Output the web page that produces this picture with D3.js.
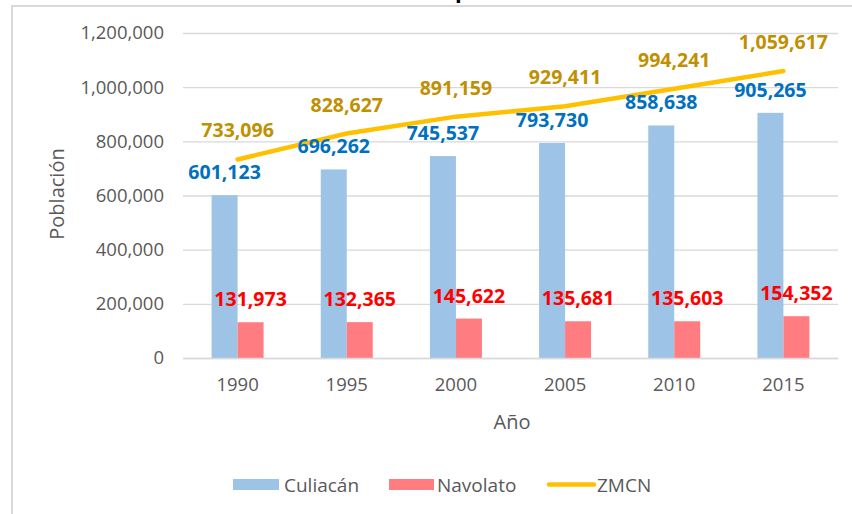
<!DOCTYPE html>
<html>
<head>
<meta charset="utf-8">
<script src="https://cdn.jsdelivr.net/npm/d3@7/dist/d3.min.js"></script>
<style>
  html, body { margin: 0; padding: 0; background: #fff; }
  svg { display: block; font-family: "Open Sans", "DejaVu Sans", sans-serif; }
</style>
</head>
<body>
<svg id="chart" width="852" height="514"></svg>
<script>
const years = ["1990", "1995", "2000", "2005", "2010", "2015"];
const culiacan = [601123, 696262, 745537, 793730, 858638, 905265];
const navolato = [131973, 132365, 145622, 135681, 135603, 154352];
const zmcn = [733096, 828627, 891159, 929411, 994241, 1059617];
const yTicks = [0, 200000, 400000, 600000, 800000, 1000000, 1200000];
const seriesNames = ["Culiacán", "Navolato", "ZMCN"];

const colors = { bar1: "#9DC3E6", bar2: "#FF7C80", line: "#FFC000",
                 lab1: "#0070C0", lab2: "#FF0000", lab3: "#BF9000",
                 grid: "#D9D9D9", text: "#595959" };

const svg = d3.select("#chart");
const fmt = d3.format(",");

// frame
svg.append("line").attr("x1", 12).attr("x2", 12).attr("y1", 5).attr("y2", 514)
  .attr("stroke", "#D9D9D9").attr("stroke-width", 2);
svg.append("line").attr("x1", 11).attr("x2", 852).attr("y1", 6).attr("y2", 6)
  .attr("stroke", "#D9D9D9").attr("stroke-width", 2);

// cut-off title remnant
svg.append("text").attr("x", 455).attr("y", -2.5).attr("font-size", 22)
  .attr("font-weight", "bold").attr("fill", "#000").text("p");

const mLeft = 183, mRight = 838, mTop = 33, mBottom = 358;
const x = d3.scaleBand().domain(years).range([mLeft, mRight]).padding(0);
const xs = d3.scaleBand().domain(["c", "n"])
  .range([x.bandwidth() * 0.262, x.bandwidth() * 0.738]).padding(0);
const y = d3.scaleLinear().domain([0, 1200000]).range([mBottom, mTop]);

// grid
const yAxis = d3.axisLeft(y).tickValues(yTicks).tickFormat(fmt)
  .tickSize(-(mRight - mLeft)).tickPadding(19);
const gy = svg.append("g").attr("transform", `translate(${mLeft},0)`).call(yAxis);
gy.select(".domain").remove();
gy.selectAll(".tick line").attr("stroke", colors.grid).attr("stroke-width", 1.3);
gy.selectAll(".tick text").attr("fill", colors.text).attr("font-size", 18.5)
  .attr("font-family", "Open Sans");

// bars
const g = svg.append("g");
g.selectAll(".bc").data(culiacan).enter().append("rect")
  .attr("x", (d, i) => x(years[i]) + xs("c")).attr("width", xs.bandwidth())
  .attr("y", d => y(d)).attr("height", d => y(0) - y(d)).attr("fill", colors.bar1);
g.selectAll(".bn").data(navolato).enter().append("rect")
  .attr("x", (d, i) => x(years[i]) + xs("n")).attr("width", xs.bandwidth())
  .attr("y", d => y(d)).attr("height", d => y(0) - y(d)).attr("fill", colors.bar2);

// x axis
const xAxis = d3.axisBottom(x).tickSize(0).tickPadding(20);
const gx = svg.append("g").attr("transform", `translate(0,${mBottom})`).call(xAxis);
gx.select(".domain").attr("stroke", colors.grid).attr("stroke-width", 1.5);
gx.selectAll(".tick text").attr("fill", colors.text).attr("font-size", 18.5)
  .attr("font-family", "Open Sans");

// line
const cx = i => x(years[i]) + x.bandwidth() / 2;
const line = d3.line().x((d, i) => cx(i)).y(d => y(d));
svg.append("path").datum(zmcn).attr("d", line).attr("fill", "none")
  .attr("stroke", colors.line).attr("stroke-width", 4.5).attr("stroke-linecap", "round");

// data labels
const lab = svg.append("g").attr("font-weight", "bold").attr("font-size", 19.5)
  .attr("text-anchor", "middle");
lab.selectAll(".lc").data(culiacan).enter().append("text")
  .attr("x", (d, i) => x(years[i]) + xs("c") + xs.bandwidth() / 2)
  .attr("y", d => y(d) - 16).attr("fill", colors.lab1).text(fmt);
lab.selectAll(".ln").data(navolato).enter().append("text")
  .attr("x", (d, i) => x(years[i]) + xs("n") + xs.bandwidth() / 2)
  .attr("y", d => y(d) - 16).attr("fill", colors.lab2).text(fmt);
lab.selectAll(".lz").data(zmcn).enter().append("text")
  .attr("x", (d, i) => cx(i))
  .attr("y", d => y(d) - 22).attr("fill", colors.lab3).text(fmt);

// axis titles
svg.append("text").attr("transform", "translate(64,194) rotate(-90)")
  .attr("text-anchor", "middle").attr("font-size", 20).attr("fill", colors.text)
  .text("Población");
svg.append("text").attr("x", 512).attr("y", 429).attr("text-anchor", "middle")
  .attr("font-size", 20).attr("fill", colors.text).text("Año");

// legend
const leg = svg.append("g").attr("font-size", 19).attr("fill", colors.text);
leg.append("rect").attr("x", 233).attr("y", 479).attr("width", 46).attr("height", 11)
  .attr("fill", colors.bar1);
leg.append("text").attr("x", 284).attr("y", 492).text(seriesNames[0]);
leg.append("rect").attr("x", 389).attr("y", 479).attr("width", 45).attr("height", 11)
  .attr("fill", colors.bar2);
leg.append("text").attr("x", 437).attr("y", 492).text(seriesNames[1]);
leg.append("line").attr("x1", 549).attr("x2", 594).attr("y1", 484.5).attr("y2", 484.5)
  .attr("stroke", colors.line).attr("stroke-width", 4.5).attr("stroke-linecap", "round");
leg.append("text").attr("x", 597).attr("y", 492).text(seriesNames[2]);
</script>
</body>
</html>
